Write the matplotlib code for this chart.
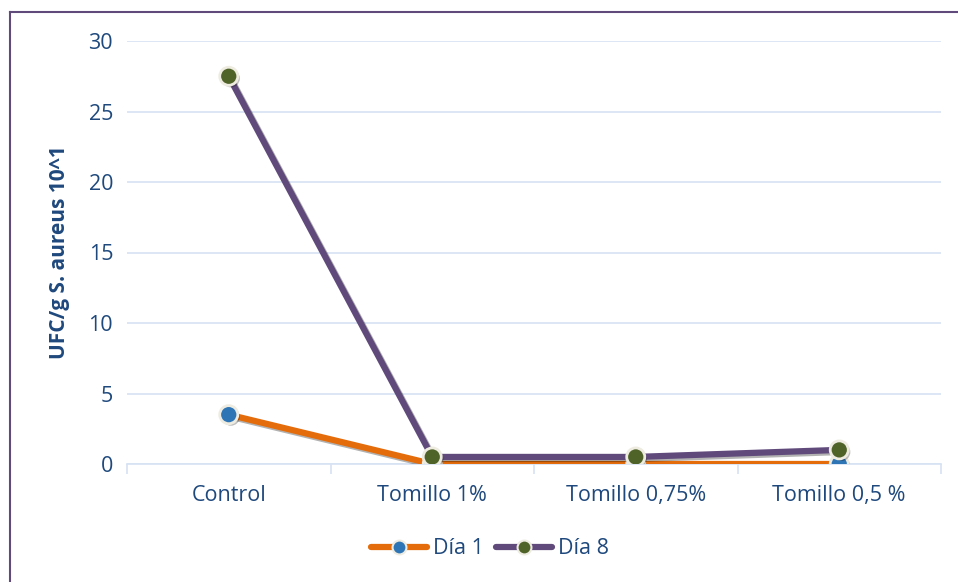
import matplotlib
matplotlib.use("Agg")
import matplotlib.pyplot as plt
import matplotlib.patheffects as pe
from matplotlib.lines import Line2D

categories = ["Control", "Tomillo 1%", "Tomillo 0,75%", "Tomillo 0,5 %"]
dia1 = [3.5, 0.0, 0.0, 0.0]
dia8 = [27.5, 0.5, 0.5, 1.0]
y_ticks = [0, 5, 10, 15, 20, 25, 30]

text_color = "#1F497D"
grid_color = "#D6E2F2"

plt.rcParams["font.family"] = ["Open Sans", "DejaVu Sans"]

fig = plt.figure(figsize=(9.58, 5.82), dpi=100)
W, H = 958, 582
ax = fig.add_axes([127 / W, 1 - 464 / H, (941 - 127) / W, (464 - 41) / H])

x = list(range(len(categories)))
shadow = [pe.SimplePatchShadow(offset=(1.5, -1.5), shadow_rgbFace="#000000", alpha=0.25), pe.Normal()]

series = [
    ("Día 1", dia1, "#E46C0A", "#2E75B6"),
    ("Día 8", dia8, "#604A7B", "#4F6228"),
]
handles = []
for i, (name, vals, lc, mc) in enumerate(series):
    ax.plot(x, vals, color=lc, lw=4.5, solid_capstyle="round", zorder=3 + i,
            path_effects=[pe.SimpleLineShadow(offset=(1.5, -1.5), alpha=0.3), pe.Normal()])
    ax.plot(x, vals, ls="none", marker="o", ms=13, mfc=mc, mec="#EEECE1", mew=2,
            zorder=3.5 + i, path_effects=shadow)
    handles.append(Line2D([0], [0], color=lc, lw=4.5, marker="o", ms=10, mfc=mc,
                          mec="#EEECE1", mew=1.5, solid_capstyle="round"))

ax.set_xlim(-0.5, len(categories) - 0.5)
ax.set_ylim(0, 30)
ax.set_yticks(y_ticks)
ax.set_xticks(x)
ax.set_xticklabels(categories)
ax.grid(axis="y", color=grid_color, lw=1.2)
ax.set_axisbelow(True)
for s in ["top", "right", "left"]:
    ax.spines[s].set_visible(False)
ax.spines["bottom"].set_color(grid_color)
ax.spines["bottom"].set_linewidth(1.2)
ax.tick_params(axis="y", length=0, pad=10, labelsize=15.5, labelcolor=text_color)
ax.tick_params(axis="x", length=0, pad=15, labelsize=15.5, labelcolor=text_color)
# category boundary ticks on the x axis
ax.set_xticks([i - 0.5 for i in range(len(categories) + 1)], minor=True)
ax.tick_params(axis="x", which="minor", length=7, color=grid_color, width=1.2)

ax.set_ylabel("UFC/g S. aureus 10^1", fontsize=15, fontweight="bold", color=text_color)
ax.yaxis.set_label_coords((70 - 127) / 814, 0.5)

fig.legend(handles, ["Día 1", "Día 8"], loc="center", bbox_to_anchor=(490 / W, 1 - 549 / H),
           ncol=2, frameon=False, fontsize=15.5, labelcolor=text_color,
           handlelength=2.6, handletextpad=0.25, columnspacing=0.6)

# frame lines around the chart
fig.add_artist(Line2D([10 / W, 1], [1 - 12 / H, 1 - 12 / H], color="#604A7B", lw=1.5,
                      transform=fig.transFigure))
fig.add_artist(Line2D([10 / W, 10 / W], [0, 1 - 12 / H], color="#604A7B", lw=1.5,
                      transform=fig.transFigure))

fig.savefig("out.png", dpi=100)
